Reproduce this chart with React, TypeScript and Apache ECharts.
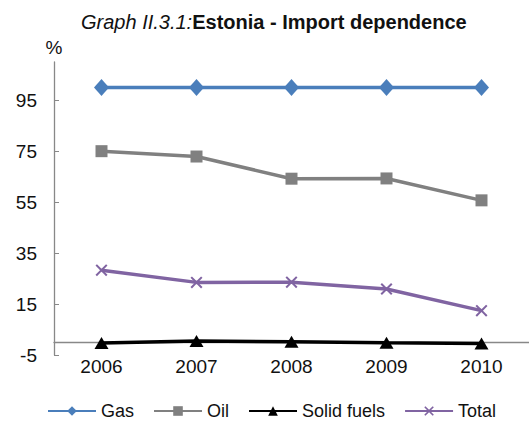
import React, { useEffect, useRef } from "react";
import * as echarts from "echarts";

const years = ["2006", "2007", "2008", "2009", "2010"];
const gas = [100, 100, 100, 100, 100];
const oil = [75, 72.9, 64.2, 64.3, 55.7];
const solidFuels = [-0.3, 0.5, 0.2, -0.2, -0.5];
const total = [28.3, 23.5, 23.6, 20.9, 12.4];
const yTicks = [-5, 15, 35, 55, 75, 95];

const crossPath =
  "path://M0,1.2 L1.2,0 L5,3.8 L8.8,0 L10,1.2 L6.2,5 L10,8.8 L8.8,10 L5,6.2 L1.2,10 L0,8.8 L3.8,5 Z";

export default function App() {
  const ref = useRef<HTMLDivElement>(null);
  useEffect(() => {
    if (!ref.current) return;
    const chart = echarts.init(ref.current, null, { renderer: "svg" });
    const font = "Liberation Sans, Arial, sans-serif";
    chart.setOption({
      animation: false,
      textStyle: { fontFamily: font },
      title: {
        text: "{i|Graph II.3.1:}{b|Estonia - Import dependence}",
        left: 76,
        top: 7,
        textStyle: {
          fontWeight: "normal",
          rich: {
            i: { fontStyle: "italic", fontWeight: "normal", fontSize: 20, color: "#111", fontFamily: font },
            b: { fontWeight: "bold", fontSize: 20, color: "#111", fontFamily: font },
          },
        },
      },
      grid: { left: 54, top: 62, width: 479, height: 293, containLabel: false },
      legend: {
        top: 402,
        left: 47,
        padding: 0,
        itemWidth: 48,
        itemHeight: 12,
        itemGap: 19,
        textStyle: { fontSize: 18, lineHeight: 18, color: "#111", fontFamily: font },
        data: ["Gas", "Oil", "Solid fuels", "Total"],
      },
      xAxis: {
        type: "category",
        data: years,
        boundaryGap: true,
        axisLine: { onZero: true, lineStyle: { color: "#888", width: 1.3 } },
        axisTick: { inside: true, length: 5, lineStyle: { color: "#888" } },
        axisLabel: { fontSize: 19, color: "#111", margin: 2, fontFamily: font },
      },
      yAxis: {
        type: "value",
        min: -5,
        max: 110,
        name: "%",
        nameLocation: "end",
        nameGap: 5,
        nameTextStyle: { fontSize: 19, color: "#111", fontFamily: font },
        splitLine: { show: false },
        axisLine: { show: true, lineStyle: { color: "#888", width: 1.3 } },
        axisTick: { show: true, inside: true, length: 5, customValues: yTicks, lineStyle: { color: "#888" } },
        axisLabel: { fontSize: 19, color: "#111", margin: 17, customValues: yTicks, fontFamily: font },
      },
      series: [
        {
          name: "Gas",
          type: "line",
          data: gas,
          symbol: "diamond",
          symbolSize: [15, 17],
          lineStyle: { color: "#4A7EBB", width: 3.5 },
          itemStyle: { color: "#4A7EBB" },
        },
        {
          name: "Oil",
          type: "line",
          data: oil,
          symbol: "rect",
          symbolSize: 12,
          lineStyle: { color: "#808080", width: 3.5 },
          itemStyle: { color: "#808080" },
        },
        {
          name: "Solid fuels",
          type: "line",
          data: solidFuels,
          symbol: "triangle",
          symbolSize: [14, 12],
          lineStyle: { color: "#000", width: 3.5 },
          itemStyle: { color: "#000" },
        },
        {
          name: "Total",
          type: "line",
          data: total,
          symbol: crossPath,
          symbolSize: 12,
          lineStyle: { color: "#8064A2", width: 3.5 },
          itemStyle: { color: "#8064A2" },
        },
      ],
    });
    return () => chart.dispose();
  }, []);
  return <div ref={ref} style={{ width: 529, height: 421, position: "absolute", left: 0, top: 0 }} />;
}
